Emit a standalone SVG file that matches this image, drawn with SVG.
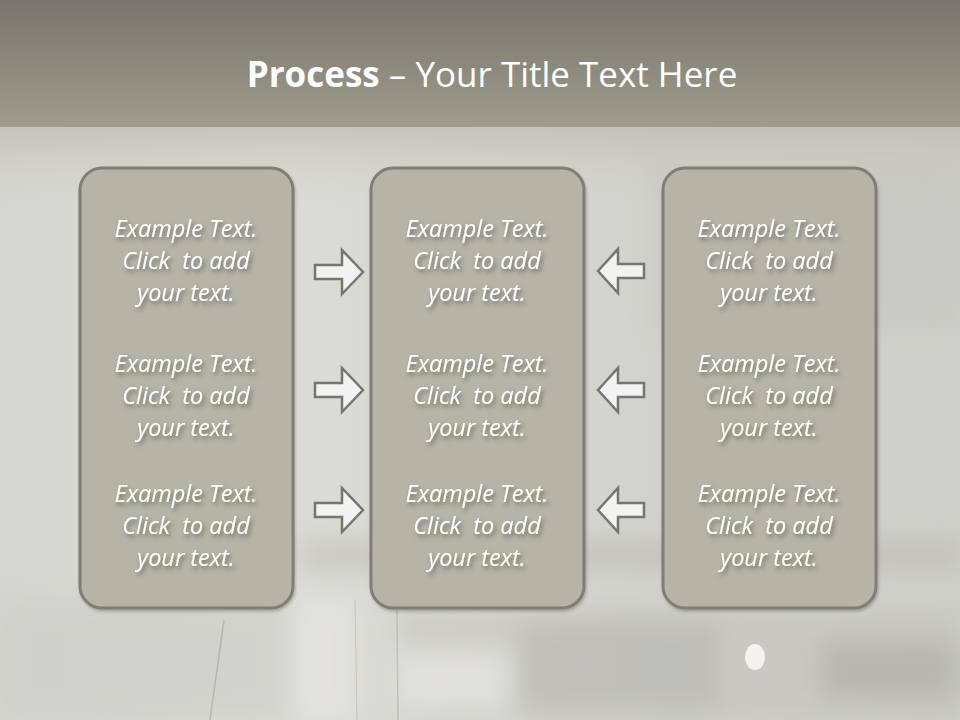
<svg xmlns="http://www.w3.org/2000/svg" width="960" height="720" viewBox="0 0 960 720">
<defs>
<linearGradient id="hdr" x1="0" y1="0" x2="0" y2="1">
<stop offset="0" stop-color="#78766c"/>
<stop offset="1" stop-color="#9e9c8c"/>
</linearGradient>
<linearGradient id="bg" x1="0" y1="0" x2="1" y2="0">
<stop offset="0" stop-color="#d6d6d0"/>
<stop offset="0.3" stop-color="#dcdcd6"/>
<stop offset="0.7" stop-color="#d2d2cc"/>
<stop offset="1" stop-color="#cfcfc9"/>
</linearGradient>
<linearGradient id="bgv" x1="0" y1="0" x2="0" y2="1">
<stop offset="0" stop-color="#b8b7aa" stop-opacity="0.6"/>
<stop offset="1" stop-color="#d0d0ca" stop-opacity="0"/>
</linearGradient>
<filter id="ts" x="-10%" y="-30%" width="130%" height="170%">
<feDropShadow dx="2" dy="3" stdDeviation="2" flood-color="#3a3a30" flood-opacity="0.6"/>
</filter>
<filter id="bs" x="-5%" y="-5%" width="115%" height="115%">
<feDropShadow dx="1" dy="2" stdDeviation="1.5" flood-color="#555" flood-opacity="0.4"/>
</filter>
<filter id="blur"><feGaussianBlur stdDeviation="12"/></filter>
</defs>
<style>
.box{fill:#b6b4a7;stroke:#817f73;stroke-width:3}
.t{font-family:"Open Sans","DejaVu Sans",sans-serif;font-style:italic;font-size:23.5px;fill:#ffffff;text-anchor:middle;white-space:pre}
.arr{fill:#f2f2f2;stroke:#76756f;stroke-width:2.5;stroke-linejoin:miter}
.title{font-family:"Open Sans","Liberation Sans",sans-serif;font-size:35px;fill:#ffffff;text-anchor:middle}
</style>
<!-- background -->
<rect x="0" y="0" width="960" height="720" fill="url(#bg)"/>
<rect x="0" y="127" width="960" height="80" fill="url(#bgv)"/>
<g filter="url(#blur)" opacity="0.45">
<rect x="650" y="160" width="310" height="170" fill="#c4c4be"/>
<rect x="300" y="540" width="660" height="30" fill="#b4b3ab"/>
<rect x="400" y="610" width="560" height="110" fill="#c0bfb8"/>
<rect x="520" y="620" width="200" height="90" fill="#a8a7a0"/>
<rect x="820" y="640" width="140" height="60" fill="#9d9c95"/>
<rect x="295" y="600" width="60" height="120" fill="#ecebe6"/>
<rect x="400" y="650" width="110" height="60" fill="#ecebe6"/>
<rect x="0" y="600" width="290" height="120" fill="#c9c9c3"/>
</g>
<ellipse cx="755" cy="657" rx="10" ry="13" fill="#f4f3ee"/>
<line x1="224" y1="620" x2="210" y2="720" stroke="#9a9992" stroke-width="1.5" opacity="0.5"/>
<line x1="355" y1="600" x2="357" y2="720" stroke="#aaa9a2" stroke-width="1" opacity="0.5"/>
<line x1="397" y1="610" x2="398" y2="720" stroke="#a9a8a1" stroke-width="1.5" opacity="0.5"/>
<!-- header -->
<rect x="0" y="0" width="960" height="127" fill="url(#hdr)"/>
<text class="title" x="492" y="87"><tspan font-weight="bold">Process</tspan> – Your Title Text Here</text>
<!-- nodes -->
<g id="box-left">
<rect class="box" x="80" y="168" width="213" height="440" rx="22" filter="url(#bs)"/>
<g filter="url(#ts)">
<text class="t" x="186" y="237">Example Text.</text>
<text class="t" x="186" y="269">Click  to add</text>
<text class="t" x="186" y="301">your text.</text>
<text class="t" x="186" y="372">Example Text.</text>
<text class="t" x="186" y="404">Click  to add</text>
<text class="t" x="186" y="436">your text.</text>
<text class="t" x="186" y="502">Example Text.</text>
<text class="t" x="186" y="534">Click  to add</text>
<text class="t" x="186" y="566">your text.</text>
</g>
</g>
<g id="box-middle">
<rect class="box" x="371" y="168" width="213" height="440" rx="22" filter="url(#bs)"/>
<g filter="url(#ts)">
<text class="t" x="477" y="237">Example Text.</text>
<text class="t" x="477" y="269">Click  to add</text>
<text class="t" x="477" y="301">your text.</text>
<text class="t" x="477" y="372">Example Text.</text>
<text class="t" x="477" y="404">Click  to add</text>
<text class="t" x="477" y="436">your text.</text>
<text class="t" x="477" y="502">Example Text.</text>
<text class="t" x="477" y="534">Click  to add</text>
<text class="t" x="477" y="566">your text.</text>
</g>
</g>
<g id="box-right">
<rect class="box" x="663" y="168" width="213" height="440" rx="22" filter="url(#bs)"/>
<g filter="url(#ts)">
<text class="t" x="769" y="237">Example Text.</text>
<text class="t" x="769" y="269">Click  to add</text>
<text class="t" x="769" y="301">your text.</text>
<text class="t" x="769" y="372">Example Text.</text>
<text class="t" x="769" y="404">Click  to add</text>
<text class="t" x="769" y="436">your text.</text>
<text class="t" x="769" y="502">Example Text.</text>
<text class="t" x="769" y="534">Click  to add</text>
<text class="t" x="769" y="566">your text.</text>
</g>
</g>
<!-- connectors -->
<g id="connectors">
<defs>
<path id="ra" d="M0,-7 L27,-7 L27,-22 L48,0 L27,22 L27,7 L0,7 Z"/>
<path id="la" d="M0,-7 L-26,-7 L-26,-22 L-46,0 L-26,22 L-26,7 L0,7 Z"/>
</defs>
<use href="#ra" class="arr" x="315" y="272"/>
<use href="#ra" class="arr" x="315" y="390"/>
<use href="#ra" class="arr" x="315" y="510"/>
<use href="#la" class="arr" x="644" y="271"/>
<use href="#la" class="arr" x="644" y="390"/>
<use href="#la" class="arr" x="644" y="510"/>
</g>
</svg>
